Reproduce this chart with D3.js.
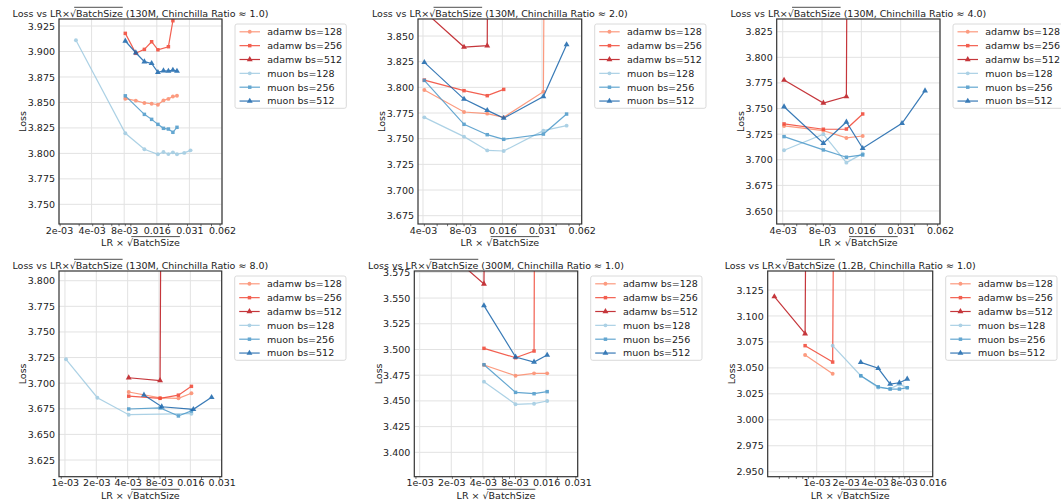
<!DOCTYPE html>
<html lang="en">
<head>
<meta charset="UTF-8" />
<title>Loss vs LR x sqrt(BatchSize)</title>
<script src="https://cdn.jsdelivr.net/npm/d3@7"></script>
<style>
  body { margin: 0; background: #fff; }
  svg { display: block; font-family: "DejaVu Sans", sans-serif; }
  .grid line { stroke: #e2e2e2; stroke-width: 1; }
</style>
</head>
<body>
<svg id="chart" width="1061" height="504"></svg>
<script>
// legend entries, same order in every panel
const seriesNames = ["adamw bs=128", "adamw bs=256", "adamw bs=512", "muon bs=128", "muon bs=256", "muon bs=512"];
const seriesColors = ["#fc8a6a", "#f14432", "#bc141a", "#9ecae1", "#4a98c9", "#1764ab"];
const seriesShapes = ["circle", "square", "triangle", "circle", "square", "triangle"];

const panelLabels = [
  "130M, Chinchilla Ratio \u2248 1.0",
  "130M, Chinchilla Ratio \u2248 2.0",
  "130M, Chinchilla Ratio \u2248 4.0",
  "130M, Chinchilla Ratio \u2248 8.0",
  "300M, Chinchilla Ratio \u2248 1.0",
  "1.2B, Chinchilla Ratio \u2248 1.0"
];

// points are [LR x sqrt(BatchSize), loss]; 7.5 marks a diverged run (off the top)
// 130M, ratio 1
const p1Adamw128 = [[0.008, 3.8537], [0.010, 3.8518], [0.012, 3.8495], [0.014, 3.8487], [0.016, 3.8478], [0.018, 3.8520], [0.020, 3.8535], [0.022, 3.8558], [0.024, 3.8566]];
const p1Adamw256 = [[0.008, 3.9178], [0.010, 3.8982], [0.012, 3.9021], [0.014, 3.9096], [0.016, 3.9017], [0.020, 3.9047], [0.022, 3.9302]];
const p1Adamw512 = [];
const p1Muon128 = [[0.0028, 3.911], [0.008, 3.8197], [0.012, 3.804], [0.016, 3.7991], [0.018, 3.8013], [0.020, 3.7993], [0.022, 3.8010], [0.024, 3.7992], [0.028, 3.8005], [0.032, 3.8030]];
const p1Muon256 = [[0.008, 3.8565], [0.012, 3.8383], [0.014, 3.8334], [0.016, 3.8285], [0.018, 3.8246], [0.020, 3.8239], [0.022, 3.8207], [0.024, 3.8256]];
const p1Muon512 = [[0.008, 3.9103], [0.010, 3.8988], [0.012, 3.8900], [0.014, 3.8883], [0.016, 3.8795], [0.018, 3.8811], [0.020, 3.8808], [0.022, 3.8818], [0.024, 3.8808]];

// 130M, ratio 2
const p2Adamw128 = [[0.004, 3.7974], [0.008, 3.7760], [0.012, 3.7744], [0.016, 3.7708], [0.032, 3.7958], [0.048, 7.5]];
const p2Adamw256 = [[0.004, 3.8071], [0.008, 3.7968], [0.012, 3.7919], [0.016, 3.7980]];
const p2Adamw512 = [[0.004, 3.874], [0.008, 3.8393], [0.012, 3.8406], [0.016, 7.5]];
const p2Muon128 = [[0.004, 3.7708], [0.008, 3.7520], [0.012, 3.7386], [0.016, 3.7380], [0.032, 3.7578], [0.048, 3.7627]];
const p2Muon256 = [[0.004, 3.8068], [0.008, 3.7640], [0.012, 3.7539], [0.016, 3.7494], [0.032, 3.7545], [0.048, 3.7740]];
const p2Muon512 = [[0.004, 3.8244], [0.008, 3.7886], [0.012, 3.7776], [0.016, 3.7700], [0.032, 3.7910], [0.048, 3.8416]];

// 130M, ratio 4
const p3Adamw128 = [[0.004, 3.7330], [0.008, 3.7284], [0.012, 3.7213], [0.016, 3.7232]];
const p3Adamw256 = [[0.004, 3.7350], [0.008, 3.7298], [0.012, 3.7300], [0.016, 3.7447]];
const p3Adamw512 = [[0.004, 3.7778], [0.008, 3.7554], [0.012, 3.7616], [0.016, 7.5]];
const p3Muon128 = [[0.004, 3.7093], [0.008, 3.7250], [0.012, 3.6972], [0.016, 3.7060]];
const p3Muon256 = [[0.004, 3.7226], [0.008, 3.7096], [0.012, 3.7025], [0.016, 3.7047]];
const p3Muon512 = [[0.004, 3.7518], [0.008, 3.7161], [0.012, 3.7369], [0.016, 3.7112], [0.032, 3.7356], [0.048, 3.7674]];

// 130M, ratio 8
const p4Adamw128 = [[0.004, 3.6914], [0.008, 3.6856], [0.012, 3.6852], [0.016, 3.6902]];
const p4Adamw256 = [[0.004, 3.6873], [0.008, 3.6852], [0.012, 3.6883], [0.016, 3.6969]];
const p4Adamw512 = [[0.004, 3.7053], [0.008, 3.7026], [0.012, 7.5]];
const p4Muon128 = [[0.001, 3.7233], [0.002, 3.6858], [0.004, 3.6692], [0.016, 3.6702]];
const p4Muon256 = [[0.004, 3.6748], [0.008, 3.6758], [0.012, 3.6680], [0.016, 3.6729]];
const p4Muon512 = [[0.0056, 3.6885], [0.0083, 3.6770], [0.0167, 3.6745], [0.025, 3.6862]];

// 300M, ratio 1
const p5Adamw128 = [[0.004, 3.4849], [0.008, 3.4745], [0.012, 3.4768], [0.016, 3.4768]];
const p5Adamw256 = [[0.004, 3.5011], [0.008, 3.4920], [0.012, 3.4985], [0.016, 7.5]];
const p5Adamw512 = [[0.002, 3.5906], [0.004, 3.5637], [0.008, 7.5]];
const p5Muon128 = [[0.004, 3.4687], [0.008, 3.4467], [0.012, 3.4473], [0.016, 3.4499]];
const p5Muon256 = [[0.004, 3.4852], [0.008, 3.4583], [0.012, 3.4570], [0.016, 3.4590]];
const p5Muon512 = [[0.004, 3.5426], [0.008, 3.4927], [0.012, 3.4878], [0.016, 3.4946]];

// 1.2B, ratio 1
const p6Adamw128 = [[0.00074, 3.0624], [0.00143, 3.0444]];
const p6Adamw256 = [[0.00074, 3.0714], [0.00143, 3.0556], [0.0028, 7.5]];
const p6Adamw512 = [[0.000355, 3.1186], [0.00074, 3.0829], [0.00143, 7.5]];
const p6Muon128 = [[0.00143, 3.0714], [0.0028, 3.0424], [0.00425, 3.0310], [0.00565, 3.0300], [0.00705, 3.0340], [0.0085, 3.0310]];
const p6Muon256 = [[0.0028, 3.0424], [0.00425, 3.0318], [0.00565, 3.0296], [0.00705, 3.0296], [0.0085, 3.0309]];
const p6Muon512 = [[0.0028, 3.0553], [0.00425, 3.0496], [0.00565, 3.0344], [0.00705, 3.0357], [0.0085, 3.0393]];

// x ticks (powers of two) and their printed labels
const xTicksWide = [0.001953125, 0.00390625, 0.0078125, 0.015625, 0.03125, 0.0625];
const xLabelsWide = ["2e-03", "4e-03", "8e-03", "0.016", "0.031", "0.062"];
const xTicksMid = [0.00390625, 0.0078125, 0.015625, 0.03125, 0.0625];
const xLabelsMid = ["4e-03", "8e-03", "0.016", "0.031", "0.062"];
const xTicksLow = [0.0009765625, 0.001953125, 0.00390625, 0.0078125, 0.015625, 0.03125];
const xLabelsLow = ["1e-03", "2e-03", "4e-03", "8e-03", "0.016", "0.031"];
const xTicksBig = [0.0009765625, 0.001953125, 0.00390625, 0.0078125, 0.015625];
const xLabelsBig = ["1e-03", "2e-03", "4e-03", "8e-03", "0.016"];

// y ticks
const yTicks1 = [3.750, 3.775, 3.800, 3.825, 3.850, 3.875, 3.900, 3.925];
const yTicks2 = [3.675, 3.700, 3.725, 3.750, 3.775, 3.800, 3.825, 3.850];
const yTicks3 = [3.650, 3.675, 3.700, 3.725, 3.750, 3.775, 3.800, 3.825];
const yTicks4 = [3.625, 3.650, 3.675, 3.700, 3.725, 3.750, 3.775, 3.800];
const yTicks5 = [3.400, 3.425, 3.450, 3.475, 3.500, 3.525, 3.550, 3.575];
const yTicks6 = [2.950, 2.975, 3.000, 3.025, 3.050, 3.075, 3.100, 3.125];

const panels = [
  { series: [p1Adamw128, p1Adamw256, p1Adamw512, p1Muon128, p1Muon256, p1Muon512], xTicks: xTicksWide, xLabels: xLabelsWide, yTicks: yTicks1 },
  { series: [p2Adamw128, p2Adamw256, p2Adamw512, p2Muon128, p2Muon256, p2Muon512], xTicks: xTicksMid, xLabels: xLabelsMid, yTicks: yTicks2 },
  { series: [p3Adamw128, p3Adamw256, p3Adamw512, p3Muon128, p3Muon256, p3Muon512], xTicks: xTicksMid, xLabels: xLabelsMid, yTicks: yTicks3 },
  { series: [p4Adamw128, p4Adamw256, p4Adamw512, p4Muon128, p4Muon256, p4Muon512], xTicks: xTicksLow, xLabels: xLabelsLow, yTicks: yTicks4 },
  { series: [p5Adamw128, p5Adamw256, p5Adamw512, p5Muon128, p5Muon256, p5Muon512], xTicks: xTicksLow, xLabels: xLabelsLow, yTicks: yTicks5 },
  { series: [p6Adamw128, p6Adamw256, p6Adamw512, p6Muon128, p6Muon256, p6Muon512], xTicks: xTicksBig, xLabels: xLabelsBig, yTicks: yTicks6 }
];

// axes boxes and view limits (x limits as log2 exponents)
const layout = [
  { left: 59, right: 222, top: 19, bottom: 224, xExp: [-9, -4], yDom: [3.7307, 3.9319] },
  { left: 418, right: 581.7, top: 19, bottom: 224, xExp: [-8.126, -4], yDom: [3.6669, 3.8666] },
  { left: 776.7, right: 940, top: 19, bottom: 224, xExp: [-8.153, -4], yDom: [3.6373, 3.8374] },
  { left: 59, right: 221.7, top: 271, bottom: 476.7, xExp: [-10.19, -5], yDom: [3.6087, 3.8095] },
  { left: 414.3, right: 577.7, top: 271, bottom: 476.7, xExp: [-10.17, -5], yDom: [3.3763, 3.5763] },
  { left: 767.7, right: 932.7, top: 271, bottom: 476.7, xExp: [-11.69, -6], yDom: [2.9452, 3.1433] }
];

const FS = 9.5;
const svg = d3.select("#chart");
const defs = svg.append("defs");

const symbolFor = {
  circle: d3.symbol(d3.symbolCircle, 12),
  square: d3.symbol(d3.symbolSquare, 12),
  triangle: d3.symbol(d3.symbolTriangle, 15)
};

// text with a sqrt overline over "BatchSize"
function sqrtText(g, x, y, before, after, anchor) {
  const t = g.append("text").attr("x", x).attr("y", y)
      .attr("text-anchor", anchor).attr("font-size", FS).attr("fill", "#222")
      .text(before + "\u221aBatchSize" + after);
  const node = t.node();
  const i0 = before.length;
  const s = node.getStartPositionOfChar(i0 + 1);
  const e = node.getEndPositionOfChar(i0 + 9);
  const r = node.getStartPositionOfChar(i0);
  g.append("line")
      .attr("x1", r.x + FS * 0.45).attr("x2", e.x)
      .attr("y1", y - FS * 1.02).attr("y2", y - FS * 1.02)
      .attr("stroke", "#222").attr("stroke-width", 0.8);
}

panels.forEach((p, pi) => {
  const L = layout[pi];
  const x = d3.scaleLog().base(2).domain([2 ** L.xExp[0], 2 ** L.xExp[1]]).range([L.left, L.right]);
  const y = d3.scaleLinear().domain(L.yDom).range([L.bottom, L.top]);
  const g = svg.append("g");

  // grid
  const grid = g.append("g").attr("class", "grid");
  grid.selectAll(".gy").data(p.yTicks).join("line").attr("class", "gy")
      .attr("x1", L.left).attr("x2", L.right)
      .attr("y1", d => y(d)).attr("y2", d => y(d));
  grid.selectAll(".gx").data(p.xTicks).join("line").attr("class", "gx")
      .attr("x1", d => x(d)).attr("x2", d => x(d))
      .attr("y1", L.top).attr("y2", L.bottom);

  // clip
  const clipId = "clip" + pi;
  defs.append("clipPath").attr("id", clipId).append("rect")
      .attr("x", L.left).attr("y", L.top)
      .attr("width", L.right - L.left).attr("height", L.bottom - L.top);

  const plot = g.append("g").attr("clip-path", `url(#${clipId})`);
  const line = d3.line().x(d => x(d[0])).y(d => y(d[1]));

  p.series.forEach((pts, si) => {
    const s = plot.append("g").attr("opacity", 0.85);
    s.append("path").datum(pts)
        .attr("d", line)
        .attr("fill", "none")
        .attr("stroke", seriesColors[si])
        .attr("stroke-width", 1.2);
    s.selectAll("path.mk").data(pts).join("path").attr("class", "mk")
        .attr("d", symbolFor[seriesShapes[si]])
        .attr("transform", d => `translate(${x(d[0])},${y(d[1])})`)
        .attr("fill", seriesColors[si]);
  });

  // frame
  g.append("rect")
      .attr("x", L.left).attr("y", L.top)
      .attr("width", L.right - L.left).attr("height", L.bottom - L.top)
      .attr("fill", "none").attr("stroke", "#333").attr("stroke-width", 1.2);

  // minor ticks of the log axis
  const lo = 2 ** L.xExp[0], hi = 2 ** L.xExp[1];
  const minors = [];
  [-4, -3, -2, -1].forEach(n => d3.range(2, 10).forEach(k => {
    const v = k * 10 ** n;
    if (v > lo && v < hi) minors.push(v);
  }));
  g.append("g").selectAll("line").data(minors).join("line")
      .attr("x1", d => x(d)).attr("x2", d => x(d))
      .attr("y1", L.bottom).attr("y2", L.bottom + 2.2)
      .attr("stroke", "#333").attr("stroke-width", 0.7);

  // axes
  g.append("g")
      .attr("transform", `translate(0,${L.bottom})`)
      .call(d3.axisBottom(x).tickValues(p.xTicks).tickFormat((d, i) => p.xLabels[i]).tickSize(0).tickPadding(3))
      .call(a => a.select(".domain").remove())
      .call(a => a.selectAll("text").attr("font-size", FS).attr("font-family", "DejaVu Sans").attr("fill", "#222"));
  g.append("g")
      .attr("transform", `translate(${L.left},0)`)
      .call(d3.axisLeft(y).tickValues(p.yTicks).tickFormat(d3.format(".3f")).tickSize(0).tickPadding(4))
      .call(a => a.select(".domain").remove())
      .call(a => a.selectAll("text").attr("font-size", FS).attr("font-family", "DejaVu Sans").attr("fill", "#222"));

  const cx = (L.left + L.right) / 2;
  // title and axis labels
  sqrtText(g, cx, L.top - 2, "Loss vs LR\u00d7", " (" + panelLabels[pi] + ")", "middle");
  sqrtText(g, cx, L.bottom + 22.3, "LR \u00d7 ", "", "middle");
  g.append("text")
      .attr("transform", `translate(${L.left - 32.8},${(L.top + L.bottom) / 2}) rotate(-90)`)
      .attr("text-anchor", "middle").attr("font-size", FS).attr("fill", "#222")
      .text("Loss");

  // legend
  const lx = L.right + 13, ly = L.top + 5;
  const leg = g.append("g");
  const box = leg.append("rect")
      .attr("x", lx).attr("y", ly).attr("rx", 2)
      .attr("height", 84.3)
      .attr("fill", "#fff").attr("fill-opacity", 0.8)
      .attr("stroke", "#d0d0d0").attr("stroke-width", 0.8);
  let maxW = 0;
  seriesNames.forEach((name, si) => {
    const ry = ly + 7.8 + si * 13.85;
    const row = leg.append("g").attr("opacity", 0.85);
    row.append("line")
        .attr("x1", lx + 4.5).attr("x2", lx + 25)
        .attr("y1", ry).attr("y2", ry)
        .attr("stroke", seriesColors[si]).attr("stroke-width", 1.2);
    row.append("path")
        .attr("d", symbolFor[seriesShapes[si]])
        .attr("transform", `translate(${lx + 14.75},${ry})`)
        .attr("fill", seriesColors[si]);
    const t = leg.append("text")
        .attr("x", lx + 32.3).attr("y", ry).attr("dy", "0.35em")
        .attr("font-size", FS).attr("fill", "#222")
        .text(name);
    maxW = Math.max(maxW, t.node().getComputedTextLength());
  });
  box.attr("width", maxW + 36.5);
});
</script>
</body>
</html>
